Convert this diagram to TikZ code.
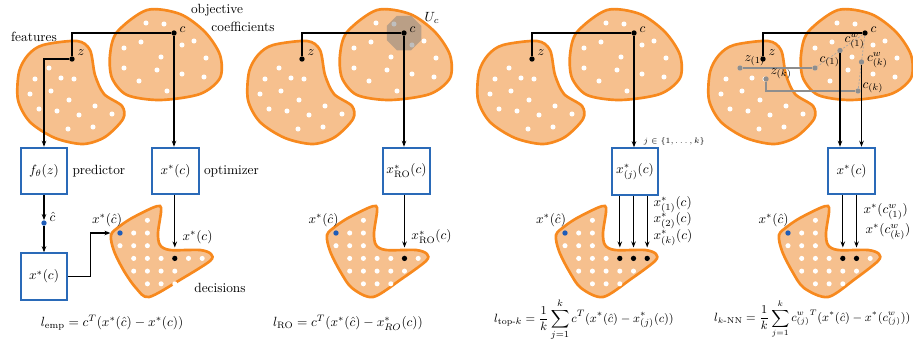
\documentclass[tikz,border=0pt]{standalone}
\usepackage{amsmath,amssymb}
\usepackage{tikz}
\usetikzlibrary{arrows.meta,positioning,shapes.geometric,calc}
\definecolor{blobfill}{HTML}{F6C08E}
\definecolor{blobedge}{HTML}{F7891E}
\definecolor{boxblue}{HTML}{2A6AB8}
\definecolor{hatblue}{HTML}{1E5CB8}
\definecolor{nngray}{HTML}{8E8E8E}
\tikzset{
  blob/.style={draw=blobedge,fill=blobfill,line width=2pt},
  solbox/.style={draw=boxblue,line width=1.4pt,minimum width=35pt,minimum height=35pt,inner sep=2pt},
  whitedot/.style={circle,fill=white,inner sep=0pt,minimum size=3.8pt},
  blackdot/.style={circle,fill=black,inner sep=0pt,minimum size=4pt},
  bluedot/.style={circle,fill=hatblue,inner sep=0pt,minimum size=4pt},
  graydot/.style={circle,fill=nngray,inner sep=0pt,minimum size=4pt},
  flowarr/.style={-{Stealth[length=4.5pt,width=3.4pt]},line width=0.8pt},
  link/.style={line width=0.8pt},
  nnline/.style={draw=nngray,line width=0.8pt},
  nndash/.style={draw=nngray!80,dash pattern=on 1.5pt off 1.2pt,line width=0.5pt},
  lbl/.style={inner sep=1pt}
}
\begin{document}
\begin{tikzpicture}[x=0.75pt,y=-0.75pt]
\useasboundingbox (0,0) rectangle (913,344);

% feature space and cost space, the same in every panel
\foreach \dx in {0,230,460,691}{
  \begin{scope}[shift={(\dx,0)}]
    \draw[blob] plot[smooth cycle] coordinates {(43,45) (77,41) (90,50) (95,75) (104,94) (122,106) (123,119) (105,137) (83,144) (55,138) (30,122) (18,100) (19,72) (28,55)};
    \draw[blob] plot[smooth cycle] coordinates {(147,10) (180,14) (205,32) (220,55) (220,78) (200,94) (160,100) (127,95) (112,78) (110,55) (117,32)};
    \foreach \p [count=\i] in {(49,68),(35,79),(61,78),(74,79),(51,91),(30,94),(69,100),(95,106),(39,109),(57,111),(79,115),(112,114),(68,129),(93,127),
        (146,23),(164,24),(141,42),(182,45),(194,41),(124,48),(161,57),(206,58),(124,68),(157,70),(182,74),(204,77),(139,81),(167,91)}
      \node[whitedot] (fd\dx-\i) at \p {};
  \end{scope}
}

% decision sets
\foreach \bx/\bot/\last in {120/29/4,336/37/5,565/38/5,788/40/5}{
  \begin{scope}[shift={(\bx,233)}]
    \draw[blob] plot[smooth cycle] coordinates {(-9,2) (-6,18) (4,38) (16,55) (\bot,64) ({\bot/2+47},46) (90,28) (91,21) (80,17) (50,17) (40,12) (38,0) (41,-21) (40,-27) (32,-25) (12,-15) (0,-7)};
    \foreach \r/\cl in {-1/{2},0/{1,2},1/{0,1,2},2/{1,2,3,4,5,6},4/{2,3,4}}
      \foreach \k in \cl
        \node[whitedot] (dd\bx-\r-\k) at (\k*13.7,\r*12.7) {};
    \foreach \k in {1,...,\last}
      \node[whitedot] (dd\bx-3-\k) at (\k*13.7,3*12.7) {};
  \end{scope}
}

% panel 1: predict then optimize
\begin{scope}
  \node[blackdot] (c1) at (174,33) {};
  \node[blackdot] (z1) at (72,59) {};
  \node[lbl,anchor=west] (c1lab) at ($(c1.east)+(1,-3)$) {$c$};
  \node[lbl,anchor=west] (z1lab) at ($(z1.east)+(1,-6)$) {$z$};
  \node[lbl] (featlab) at (34,37) {features};
  \node[lbl] (objlab) at (217,10) {objective};
  \node[lbl] (coeflab) at (243,27) {coefficients};
  \node[solbox] (fbox) at (44,171) {$f_\theta(z)$};
  \node[solbox] (optbox) at (175.5,171) {$x^*(c)$};
  \node[lbl,right=2pt of fbox] (predlab) {predictor};
  \node[lbl,right=2pt of optbox] (optlab) {optimizer};
  \node[bluedot] (chat1) at (44,223) {};
  \node[lbl,anchor=west] (chatlab) at ($(chat1.east)+(1,-6)$) {$\hat c$};
  \node[solbox] (lowbox) at (44,276.5) {$x^*(c)$};
  \node[bluedot] (xhat1) at (120,233) {};
  \node[blackdot] (xopt1) at (174.8,258.4) {};
  \node[lbl] (xhat1lab) at (107,220) {$x^*(\hat c)$};
  \node[lbl] (xopt1lab) at (197.5,237) {$x^*(c)$};
  \node[lbl] (declab) at (220,288) {decisions};
  \node[lbl] (loss1) at (112,323) {$l_{\text{emp}} = c^T(x^*(\hat c) - x^*(c))$};
  \draw[link] (c1) -| (z1);
  \draw[flowarr] (z1) -| (fbox.north);
  \draw[flowarr] (c1) -- (c1 |- optbox.north);
  \draw[flowarr] (fbox) -- (chat1);
  \draw[flowarr] (chat1) -- (lowbox);
  \draw[flowarr,shorten >=5pt] (lowbox.east) -- ++(22,0) |- (xhat1);
  \draw[flowarr,shorten >=6pt] (optbox.south -| xopt1) -- (xopt1);
\end{scope}

% panel 2: robust optimization
\begin{scope}[shift={(230,0)}]
  \node[regular polygon,regular polygon sides=8,minimum size=28pt,inner sep=0pt,fill=gray,fill opacity=0.5] (ucset) at (174,33) {};
  \node[lbl] (uclab) at (202,18) {$U_c$};
  \node[blackdot] (c2) at (174,33) {};
  \node[blackdot] (z2) at (72,59) {};
  \node[lbl,anchor=west] (c2lab) at ($(c2.east)+(1,-3)$) {$c$};
  \node[lbl,anchor=west] (z2lab) at ($(z2.east)+(1,-6)$) {$z$};
  \node[solbox] (robox) at (176.5,171) {$x^*_{\text{RO}}(c)$};
  \node[bluedot] (xhat2) at (106,233) {};
  \node[blackdot] (xro2) at (174.5,258.4) {};
  \node[lbl] (xhat2lab) at (93.5,220) {$x^*(\hat c)$};
  \node[lbl] (xro2lab) at (201.5,237) {$x^*_{\text{RO}}(c)$};
  \node[lbl] (loss2) at (118,323) {$l_{\text{RO}} = c^T(x^*(\hat c) - x^*_{RO}(c))$};
  \draw[link] (c2) -| (z2);
  \draw[flowarr] (c2) -- (c2 |- robox.north);
  \draw[flowarr,shorten >=6pt] (robox.south -| xro2) -- (xro2);
\end{scope}

% panel 3: top-k solutions
\begin{scope}[shift={(460,0)}]
  \node[blackdot] (c3) at (174,33) {};
  \node[blackdot] (z3) at (72,59) {};
  \node[lbl,anchor=west] (c3lab) at ($(c3.east)+(1,-3)$) {$c$};
  \node[lbl,anchor=west] (z3lab) at ($(z3.east)+(1,-6)$) {$z$};
  \node[solbox] (topkbox) at (175,171.5) {$x^*_{(j)}(c)$};
  \node[lbl,font=\fontsize{6}{7}\selectfont,anchor=west] (jlab) at (182,141) {$j\in\{1,\dots,k\}$};
  \node[bluedot] (xhat3) at (105,233) {};
  \foreach \k/\n in {4/1,5/2,6/3}
    \node[blackdot] (xtop\n) at (105+\k*13.7,258.4) {};
  \node[lbl] (xhat3lab) at (91,220) {$x^*(\hat c)$};
  \node[lbl,anchor=west] (xtop1lab) at (192,205) {$x^*_{(1)}(c)$};
  \node[lbl,anchor=west] (xtop2lab) at (192,221) {$x^*_{(2)}(c)$};
  \node[lbl,anchor=west] (xtop3lab) at (192,238) {$x^*_{(k)}(c)$};
  \node[lbl,font=\fontsize{9.4}{11}\selectfont] (loss3) at (124,320) {$\displaystyle l_{\text{top-}k} = \frac{1}{k}\sum_{j=1}^{k} c^T(x^*(\hat c) - x^*_{(j)}(c))$};
  \draw[link] (c3) -| (z3);
  \draw[flowarr] (c3) -- (c3 |- topkbox.north);
  \foreach \n in {1,2,3}
    \draw[flowarr,shorten >=6pt] (topkbox.south -| xtop\n) -- (xtop\n);
\end{scope}

% panel 4: k nearest neighbours
\begin{scope}[shift={(691,0)}]
  \node[blackdot] (c4) at (174,33) {};
  \node[blackdot] (z4) at (72,59) {};
  \node[graydot] (z41) at (49,68) {};
  \node[graydot] (z4k) at (75,79) {};
  \node[graydot] (c41) at (124,68) {};
  \node[graydot] (c4k) at (167,91) {};
  \draw[link] (c4) -| (z4);
  \draw[nnline] (z41) -- (c41);
  \draw[nnline] (z4k) |- (c4k);
  \draw[nndash] (c4) -- (c41);
  \draw[nndash] (c4) -- (c4k);
  \node[graydot] (cw41) at ($(c4)!0.5!(c41)$) {};
  \node[graydot] (cw4k) at ($(c4)!0.5!(c4k)$) {};
  \node[lbl,anchor=west] (c4lab) at ($(c4.east)+(1,-3)$) {$c$};
  \node[lbl,anchor=west] (z4lab) at ($(z4.east)+(1,-6)$) {$z$};
  \node[lbl,anchor=west] (z41lab) at ($(z41.east)+(0,-7)$) {$z_{(1)}$};
  \node[lbl,anchor=west] (z4klab) at ($(z4k.east)+(0,-5)$) {$z_{(k)}$};
  \node[lbl,anchor=west] (c41lab) at ($(c41.east)+(0,-6)$) {$c_{(1)}$};
  \node[lbl,anchor=west] (c4klab) at ($(c4k.east)+(0,-3)$) {$c_{(k)}$};
  \node[lbl,anchor=west] (cw41lab) at ($(cw41.east)+(0,-9)$) {$c^w_{(1)}$};
  \node[lbl,anchor=west] (cw4klab) at ($(cw4k.east)+(1,-2)$) {$c^w_{(k)}$};
  \node[solbox] (knnbox) at (160.5,171) {$x^*(c)$};
  \draw[flowarr] (cw41) -- (cw41 |- knnbox.north);
  \draw[flowarr] (cw4k) -- (cw4k |- knnbox.north);
  \node[bluedot] (xhat4) at (97,233) {};
  \foreach \k/\n in {4/1,5/2}
    \node[blackdot] (xnn\n) at (97+\k*13.7,258.4) {};
  \node[lbl] (xhat4lab) at (82.5,220) {$x^*(\hat c)$};
  \node[lbl,anchor=west] (xnn1lab) at (171,212) {$x^*(c^w_{(1)})$};
  \node[lbl,anchor=west] (xnn2lab) at (173,232) {$x^*(c^w_{(k)})$};
  \node[lbl,font=\fontsize{9.1}{11}\selectfont,anchor=east] (loss4) at (221,319) {$\displaystyle l_{k\text{-NN}} = \frac{1}{k}\sum_{j=1}^{k} {c^w_{(j)}}^T(x^*(\hat c) - x^*(c^w_{(j)}))$};
  \foreach \n in {1,2}
    \draw[flowarr,shorten >=6pt] (knnbox.south -| xnn\n) -- (xnn\n);
\end{scope}
\end{tikzpicture}
\end{document}
